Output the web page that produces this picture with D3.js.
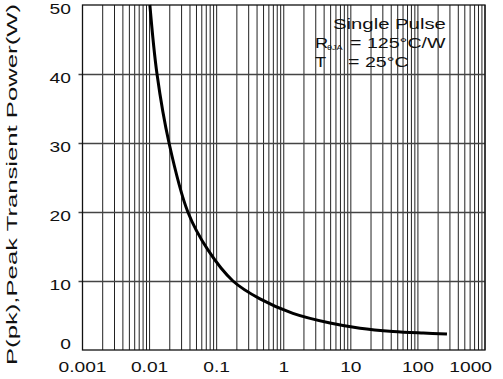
<!DOCTYPE html>
<html>
<head>
<meta charset="utf-8">
<script src="https://cdn.jsdelivr.net/npm/d3@7"></script>
<style>
  html, body { margin: 0; padding: 0; background: #fff; }
  svg { display: block; font-family: "Liberation Sans", Arial, sans-serif; }
</style>
</head>
<body>
<svg id="chart" width="503" height="379"></svg>
<script>
// pulse width (s) vs peak transient power (W)
const pulseWidth = [0.0101, 0.0129, 0.0195, 0.0372, 0.0741, 0.175, 0.443, 1.37, 4.9, 13.7, 42.5, 120, 271];
const peakPower  = [50, 40, 30, 20, 14.5, 10, 7.4, 5.3, 3.9, 3.15, 2.68, 2.45, 2.32];

const xTicks = [0.001, 0.01, 0.1, 1, 10, 100, 1000];
const xTickLabels = ["0.001", "0.01", "0.1", "1", "10", "100", "1000"];
const yTicks = [0, 10, 20, 30, 40, 50];

const noteLines = ["Single Pulse", "= 125°C/W", "= 25°C"];

const width = 503, height = 379;
const margin = { top: 5, right: 18, bottom: 29, left: 82.5 };
const stretch = 1.28; // the datasheet fonts are drawn wide

const svg = d3.select("#chart");

const x = d3.scaleLog().domain([0.001, 1000]).range([margin.left, width - margin.right]);
const y = d3.scaleLinear().domain([0, 50]).range([height - margin.bottom, margin.top]);

// widen a text element horizontally by the stretch factor
function widen(sel, k) {
  sel.each(function() {
    const len = this.getComputedTextLength();
    d3.select(this).attr("textLength", len * (k || stretch)).attr("lengthAdjust", "spacingAndGlyphs");
  });
}

// vertical grid: every decade plus 2..9
const minor = [];
for (let e = -3; e < 3; e++) {
  for (let m = 1; m <= 9; m++) minor.push(m * Math.pow(10, e));
}
minor.push(1000);

svg.append("g")
  .selectAll("line")
  .data(minor)
  .join("line")
  .attr("x1", d => x(d)).attr("x2", d => x(d))
  .attr("y1", y(0)).attr("y2", y(50))
  .attr("stroke", "#222")
  .attr("stroke-width", 1);

// horizontal grid
svg.append("g")
  .selectAll("line")
  .data(yTicks.slice(1, -1))
  .join("line")
  .attr("x1", x(0.001) - 4).attr("x2", x(1000))
  .attr("y1", d => Math.round(y(d)) + 0.5).attr("y2", d => Math.round(y(d)) + 0.5)
  .attr("stroke", "#444")
  .attr("stroke-width", 1.3);

// frame
svg.append("rect")
  .attr("x", x(0.001)).attr("y", y(50))
  .attr("width", x(1000) - x(0.001)).attr("height", y(0) - y(50))
  .attr("fill", "none")
  .attr("stroke", "#111")
  .attr("stroke-width", 1.3);

// curve
const line = d3.line()
  .x((d, i) => x(pulseWidth[i]))
  .y(d => y(d))
  .curve(d3.curveCatmullRom.alpha(0.5));

svg.append("path")
  .datum(peakPower)
  .attr("d", line)
  .attr("fill", "none")
  .attr("stroke", "#000")
  .attr("stroke-width", 3)
  .attr("stroke-linecap", "butt");

// y tick labels
svg.append("g")
  .selectAll("text")
  .data(yTicks)
  .join("text")
  .attr("x", 71)
  .attr("y", d => d === 0 ? y(d) - 1 : y(d) + 9)
  .attr("text-anchor", "end")
  .attr("font-size", 15)
  .attr("fill", "#111")
  .text(d => d)
  .call(widen);

// x tick labels
svg.append("g")
  .selectAll("text")
  .data(xTicks)
  .join("text")
  .attr("y", 372)
  .attr("text-anchor", "middle")
  .attr("font-size", 15)
  .attr("fill", "#111")
  .text((d, i) => xTickLabels[i])
  .call(widen)
  .attr("x", function(d) {
    const w = this.getComputedTextLength() * stretch;
    return Math.min(x(d), width - 5 - w / 2);
  });

// y axis title
svg.append("text")
  .attr("transform", `translate(17,184.5) rotate(-90)`)
  .attr("text-anchor", "middle")
  .attr("font-size", 15)
  .attr("fill", "#111")
  .attr("textLength", 361)
  .attr("lengthAdjust", "spacingAndGlyphs")
  .text("P(pk),Peak Transient Power(W)");

// note
const note = svg.append("g").attr("fill", "#111").attr("font-size", 14);
note.append("text").attr("x", 333).attr("y", 29).text(noteLines[0]).call(widen, 1.45);
note.append("text").attr("x", 315).attr("y", 48).text("R").call(widen, 1.3);
note.append("text").attr("x", 327).attr("y", 50).attr("font-size", 7).text("θJA").call(widen, 1.3);
note.append("text").attr("x", 350).attr("y", 48).text(noteLines[1]).call(widen, 1.4);
note.append("text").attr("x", 315).attr("y", 67).text("T").call(widen, 1.3);
note.append("text").attr("x", 348).attr("y", 67).text(noteLines[2]).call(widen, 1.4);
</script>
</body>
</html>
